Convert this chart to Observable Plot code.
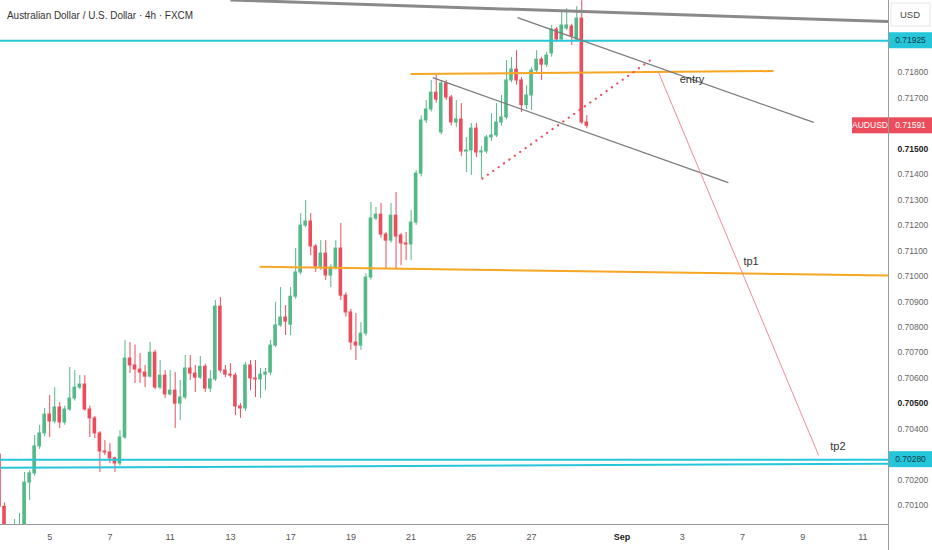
<!DOCTYPE html>
<html><head><meta charset="utf-8">
<script src="https://cdn.jsdelivr.net/npm/d3@7"></script>
<script src="https://cdn.jsdelivr.net/npm/@observablehq/plot@0.6"></script>
<style>
body{margin:0;background:#fff}
#chart svg{display:block}
</style>
</head><body><div id="chart"></div>
<script>
// ---- Data (4h candles, index 0 = first visible full candle) ----
const firstIndex = -1;
const opens = [0.70300,0.70095,0.70010,0.69980,0.70005,0.70021,0.70190,0.70226,0.70332,0.70383,
0.70457,0.70430,0.70485,0.70426,0.70477,0.70520,0.70563,0.70575,0.70477,0.70442,
0.70383,0.70312,0.70308,0.70285,0.70265,0.70367,0.70677,0.70650,0.70634,0.70622,
0.70606,0.70700,0.70563,0.70610,0.70536,0.70551,0.70500,0.70524,0.70638,0.70618,
0.70602,0.70645,0.70559,0.70595,0.70881,0.70630,0.70614,0.70610,0.70489,0.70481,
0.70650,0.70599,0.70595,0.70614,0.70622,0.70728,0.70807,0.70838,0.70810,0.70920,
0.71015,0.71199,0.71215,0.71117,0.71038,0.71089,0.71003,0.71034,0.71109,0.70924,
0.70858,0.70740,0.70728,0.70775,0.70995,0.71227,0.71242,0.71164,0.71140,0.71238,
0.71160,0.71129,0.71125,0.71211,0.71403,0.71612,0.71655,0.71721,0.71565,0.71757,
0.71702,0.71604,0.71616,0.71490,0.71494,0.71580,0.71486,0.71490,0.71545,0.71553,
0.71604,0.71624,0.71769,0.71812,0.71769,0.71672,0.71710,0.71808,0.71851,0.71831,
0.71875,0.71969,0.71930,0.71973,0.71981,0.71930,0.72012,0.71604];
const highs = [0.70310,0.70110,0.70020,0.70045,0.70069,0.70230,0.70237,0.70375,0.70414,0.70481,
0.70532,0.70563,0.70504,0.70490,0.70642,0.70630,0.70610,0.70610,0.70490,0.70450,
0.70390,0.70355,0.70343,0.70290,0.70394,0.70748,0.70740,0.70730,0.70697,0.70650,
0.70740,0.70710,0.70669,0.70630,0.70630,0.70622,0.70591,0.70689,0.70689,0.70650,
0.70685,0.70655,0.70630,0.70905,0.70917,0.70650,0.70657,0.70620,0.70500,0.70661,
0.70669,0.70669,0.70638,0.70638,0.70748,0.70897,0.70956,0.70885,0.70956,0.71109,
0.71246,0.71297,0.71246,0.71125,0.71140,0.71140,0.71045,0.71140,0.71207,0.70935,
0.70870,0.70854,0.70818,0.71010,0.71290,0.71270,0.71286,0.71172,0.71286,0.71329,
0.71168,0.71172,0.71258,0.71415,0.71630,0.71690,0.71769,0.71796,0.71769,0.71769,
0.71710,0.71690,0.71678,0.71545,0.71600,0.71600,0.71510,0.71553,0.71639,0.71678,
0.71710,0.71847,0.71859,0.71886,0.71780,0.71749,0.71820,0.71886,0.71860,0.71880,
0.71985,0.71977,0.72043,0.72051,0.71990,0.72059,0.72090,0.71631];
const lows = [0.70000,0.69990,0.69960,0.69970,0.69990,0.70010,0.70120,0.70215,0.70320,0.70370,
0.70367,0.70420,0.70402,0.70415,0.70470,0.70510,0.70555,0.70470,0.70367,0.70363,
0.70230,0.70296,0.70265,0.70230,0.70255,0.70360,0.70618,0.70579,0.70579,0.70563,
0.70600,0.70555,0.70555,0.70520,0.70530,0.70402,0.70434,0.70515,0.70591,0.70544,
0.70595,0.70544,0.70544,0.70587,0.70620,0.70602,0.70600,0.70453,0.70442,0.70470,
0.70551,0.70524,0.70520,0.70551,0.70610,0.70720,0.70800,0.70767,0.70767,0.70910,
0.71005,0.71190,0.71081,0.71015,0.71023,0.70983,0.70956,0.71025,0.70905,0.70840,
0.70709,0.70669,0.70709,0.70765,0.70985,0.71219,0.71150,0.71030,0.71130,0.71030,
0.71042,0.71062,0.71062,0.71200,0.71390,0.71600,0.71645,0.71680,0.71555,0.71690,
0.71590,0.71584,0.71470,0.71407,0.71396,0.71466,0.71384,0.71480,0.71530,0.71545,
0.71590,0.71615,0.71760,0.71750,0.71643,0.71655,0.71651,0.71800,0.71769,0.71820,
0.71860,0.71920,0.71925,0.71965,0.71906,0.71920,0.71596,0.71580];
const closes = [0.70095,0.70010,0.69980,0.70005,0.70021,0.70190,0.70226,0.70332,0.70383,0.70457,
0.70430,0.70485,0.70426,0.70477,0.70520,0.70563,0.70575,0.70477,0.70442,0.70383,
0.70312,0.70308,0.70285,0.70265,0.70367,0.70677,0.70650,0.70634,0.70622,0.70606,
0.70700,0.70563,0.70610,0.70536,0.70551,0.70500,0.70524,0.70638,0.70618,0.70602,
0.70645,0.70559,0.70595,0.70881,0.70630,0.70614,0.70610,0.70489,0.70481,0.70650,
0.70599,0.70595,0.70614,0.70622,0.70728,0.70807,0.70838,0.70822,0.70920,0.71015,
0.71199,0.71215,0.71117,0.71038,0.71089,0.71003,0.71034,0.71109,0.70924,0.70858,
0.70740,0.70728,0.70775,0.70995,0.71227,0.71242,0.71164,0.71140,0.71238,0.71156,
0.71129,0.71125,0.71211,0.71403,0.71612,0.71655,0.71721,0.71694,0.71757,0.71702,
0.71604,0.71616,0.71490,0.71494,0.71580,0.71486,0.71490,0.71545,0.71553,0.71604,
0.71624,0.71769,0.71812,0.71769,0.71672,0.71710,0.71808,0.71851,0.71831,0.71867,
0.71969,0.71930,0.71985,0.71985,0.71942,0.72012,0.71604,0.71591];

// x-axis day labels and the candle index where each day starts
const dayLabels = ["5","7","11","13","17","19","21","25","27","Sep","3","7","9","11"];
const dayIndex  = [9,21,33,45,57,69,81,93,105,123,135,147,159,171];
// price ticks (those hidden behind price boxes are left out)
const priceTicks = [0.701,0.702,0.704,0.706,0.707,0.708,0.709,0.710,0.711,0.712,0.713,0.714,0.717,0.718];
const priceTicksMajor = [0.705,0.715];
// domains
const indexDomain = [-0.8, 176.1];
const priceDomain = [0.700254, 0.72083];

// drawings (candle index, price)
const resistance = [{x1:45, y1:0.72085, x2:176.1, y2:0.72000}];
const cyanLevels = [0.71925, 0.70280];
const cyanSloped = [{x1:-0.8, y1:0.70248, x2:176.1, y2:0.70264}];
const orangeLines = [
  {x1:80.9, y1:0.71794, x2:153.2, y2:0.71806},
  {x1:50.8, y1:0.71038, x2:176.1, y2:0.71003}
];
const channel = [
  {x1:102.2, y1:0.72016, x2:161.2, y2:0.71604},
  {x1:85.3, y1:0.71780, x2:144.2, y2:0.71368}
];
const dotted = [{x1:95.2, y1:0.71384, x2:129.1, y2:0.71855}];
const target = [{x1:130.3, y1:0.71800, x2:162.2, y2:0.70296}];
const noteText = ["entry","tp1","tp2"];
const noteIndex = [134.5, 147.2, 164.5];
const notePrice = [0.71773, 0.71058, 0.70332];
const lastPrice = 0.71591;
const symbol = "AUDUSD";
const title = "Australian Dollar / U.S. Dollar · 4h · FXCM";

// ---- build ----
const candles = opens.map((o, i) => ({k: firstIndex + i, o, h: highs[i], l: lows[i], c: closes[i]}));
const up = candles.filter(d => d.c >= d.o);
const down = candles.filter(d => d.c < d.o);
const notes = noteText.map((t, i) => ({t, k: noteIndex[i], p: notePrice[i]}));
const labelOf = new Map(dayIndex.map((k, i) => [k, dayLabels[i]]));
const GREEN = "#53b987", RED = "#eb4d5c", CYAN = "#26c6da", ORANGE = "#f5a623";
const FONT = "'Liberation Sans', Arial, sans-serif";
const hw = 0.36;

function candleMarks(data, color) {
  return [
    Plot.ruleX(data, {x: "k", y1: "l", y2: "h", stroke: color, strokeWidth: 1, clip: true}),
    Plot.rect(data, {x1: d => d.k - hw, x2: d => d.k + hw, y1: "o", y2: "c", fill: color, insetTop: -0.5, insetBottom: -0.5, clip: true})
  ];
}

const plot = Plot.plot({
  width: 932, height: 550,
  marginLeft: 0, marginRight: 44, marginTop: 0, marginBottom: 26,
  x: {domain: indexDomain},
  y: {domain: priceDomain},
  style: {fontFamily: FONT, background: "#fff"},
  marks: [
    ...candleMarks(up, GREEN),
    ...candleMarks(down, RED),
    Plot.link(resistance, {x1:"x1", y1:"y1", x2:"x2", y2:"y2", stroke:"#8a8a8a", strokeWidth:3, clip:true}),
    Plot.ruleY(cyanLevels, {stroke: CYAN, strokeWidth: 2}),
    Plot.link(cyanSloped, {x1:"x1", y1:"y1", x2:"x2", y2:"y2", stroke: CYAN, strokeWidth:2, clip:true}),
    Plot.link(orangeLines, {x1:"x1", y1:"y1", x2:"x2", y2:"y2", stroke: ORANGE, strokeWidth:2, clip:true}),
    Plot.link(channel, {x1:"x1", y1:"y1", x2:"x2", y2:"y2", stroke:"#7b7b7b", strokeWidth:1.3, clip:true}),
    Plot.link(dotted, {x1:"x1", y1:"y1", x2:"x2", y2:"y2", stroke: RED, strokeWidth:2.2, strokeDasharray:"0.1,6.5", strokeLinecap:"round", clip:true}),
    Plot.link(target, {x1:"x1", y1:"y1", x2:"x2", y2:"y2", stroke:"#f28b9a", strokeWidth:1, clip:true}),
    Plot.text(notes, {x:"k", y:"p", text:"t", textAnchor:"start", fill:"#333", fontSize:11}),
    Plot.axisY(priceTicks, {anchor:"right", tickSize:0, tickPadding:9, tickFormat: d3.format(".5f"), color:"#666", fontSize:8.5}),
    Plot.axisY(priceTicksMajor, {anchor:"right", tickSize:0, tickPadding:9, tickFormat: d3.format(".5f"), color:"#222", fontSize:8.5, fontWeight:"bold"}),
    Plot.axisX(dayIndex.filter(k => labelOf.get(k) !== "Sep"), {anchor:"bottom", tickSize:0, tickPadding:9, tickFormat: k => labelOf.get(k), color:"#555", fontSize:9}),
    Plot.axisX(dayIndex.filter(k => labelOf.get(k) === "Sep"), {anchor:"bottom", tickSize:0, tickPadding:9, tickFormat: k => labelOf.get(k), color:"#222", fontSize:9, fontWeight:"bold"})
  ]
});

document.getElementById("chart").append(plot);

// ---- overlays: axis lines, price boxes, title ----
const svg = d3.select(plot);
const ys = plot.scale("y"), xs = plot.scale("x");
const right = xs.range[1], bottom = ys.range[0];
svg.append("line").attr("x1", 0).attr("x2", right).attr("y1", bottom + 0.5).attr("y2", bottom + 0.5).attr("stroke", "#9a9a9a");
svg.append("line").attr("x1", right + 0.5).attr("x2", right + 0.5).attr("y1", 0).attr("y2", 550).attr("stroke", "#9a9a9a");

function box(x, w, price, fill, txtColor, label) {
  const y = ys.apply(price);
  svg.append("rect").attr("x", x).attr("y", y - 8).attr("width", w).attr("height", 16).attr("fill", fill);
  svg.append("text").attr("x", x + w / 2).attr("y", y).attr("dy", "0.35em").attr("text-anchor", "middle")
    .attr("fill", txtColor).attr("font-size", 8.5).attr("font-family", FONT).text(label);
}
cyanLevels.forEach(p => box(right + 1, 43, p, CYAN, "#0d3d47", d3.format(".5f")(p)));
box(right + 1, 43, lastPrice, RED, "#fff", d3.format(".5f")(lastPrice));
box(right - 36, 36, lastPrice, RED, "#fff", symbol);

svg.append("rect").attr("x", right + 3).attr("y", 3).attr("width", 39).attr("height", 23).attr("fill", "#fff").attr("stroke", "#e6e6e6");
svg.append("text").attr("x", right + 22).attr("y", 15).attr("dy", "0.35em").attr("text-anchor", "middle")
  .attr("fill", "#444").attr("font-size", 9.5).attr("font-family", FONT).text("USD");

svg.append("text").attr("x", 7).attr("y", 15).attr("dy", "0.35em").attr("text-anchor", "start").attr("fill", "#333")
  .attr("font-size", 11).attr("font-family", FONT)
  .attr("textLength", 186).attr("lengthAdjust", "spacingAndGlyphs").text(title);
</script>
</body></html>
